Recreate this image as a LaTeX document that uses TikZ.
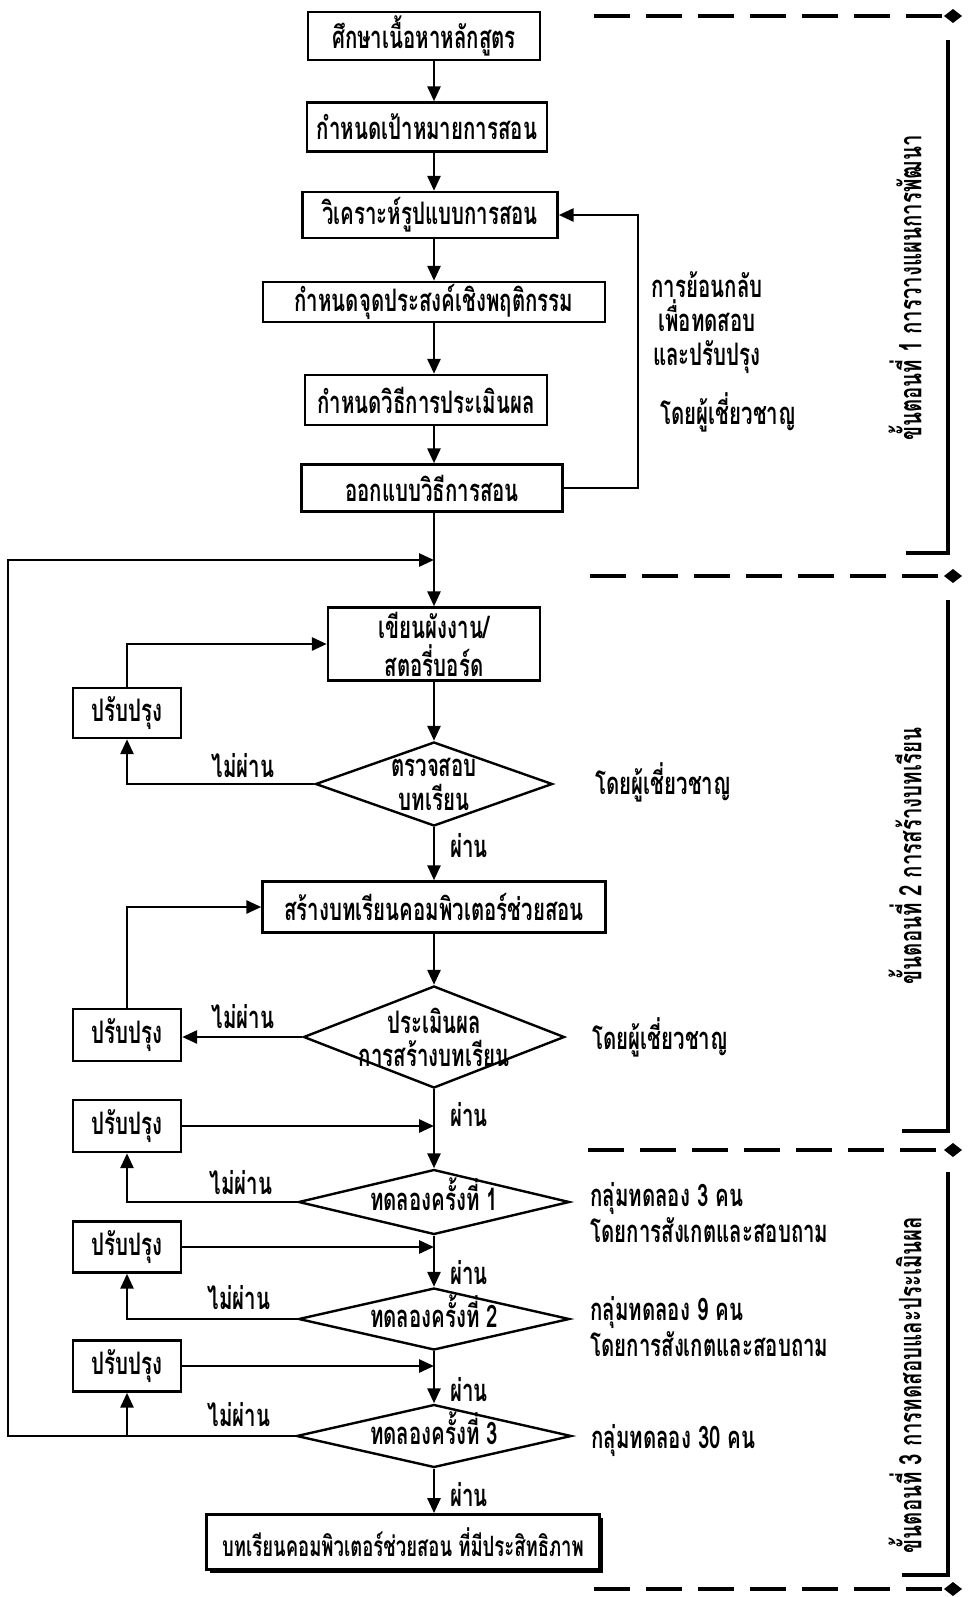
\documentclass[tikz,border=0pt]{standalone}
\usepackage{fontspec}
\newfontfamily\thai[Script=Thai,FakeStretch=0.66]{Loma}
\usetikzlibrary{arrows.meta,shapes.geometric,shadows}
\newcommand{\zb}[1]{\makebox[0pt]{#1}}
\newcommand{\zu}[1]{\raisebox{-4pt}[0pt][0pt]{\makebox[0pt]{#1}}}
\begin{document}
\begin{tikzpicture}[x=0.5pt,y=-0.5pt,
  txt/.style={font=\thai\bfseries\fontsize{15.5}{17}\selectfont, inner sep=0pt},
  box/.style={draw, line width=1.2pt, txt, align=center, fill=white},
  dia/.style={draw, diamond, line width=1.2pt, txt, align=center, aspect=3, inner sep=0pt},
  arr/.style={-{Triangle[length=7.5pt,width=6.5pt]}, line width=1.4pt},
  dsh/.style={line width=2.2pt, dash pattern=on 18pt off 8pt, -{Diamond[length=9pt,width=7pt]}},
  brk/.style={line width=2.2pt},
  fbox/.style={box, line width=1.4pt, drop shadow={shadow xshift=1.6pt, shadow yshift=-1.6pt, fill=black, opacity=1}}
]
\useasboundingbox (0,0) rectangle (969,1597);
\coordinate (sp) at (434,0);
\coordinate (lp) at (8,0);
\coordinate (fb) at (638,0);
\coordinate (mrg) at (434,560);

% stage 1
\node[box,minimum width=116pt,minimum height=24pt] (b1) at (424,36) {ศึกษาเนื้อหาหลักสูตร};
\node[box,minimum width=120pt,minimum height=24.5pt] (b2) at (427,127) {กำหนดเป้าหมายการสอน};
\node[box,minimum width=127.5pt,minimum height=23pt] (b3) at (430,215) {วิเคราะห์รูปแบบการสอน};
\node[box,minimum width=171pt,minimum height=20pt] (b4) at (434,302) {กำหนดจุดประสงค์เชิงพฤติกรรม};
\node[box,minimum width=121pt,minimum height=25pt] (b5) at (426,400) {กำหนดวิธีการประเมินผล};
\node[box,minimum width=130.5pt,minimum height=23.5pt] (b6) at (432,488) {ออกแบบวิธีการสอน};
\draw[arr] (b1.south -| sp) -- (b2.north -| sp);
\draw[arr] (b2.south -| sp) -- (b3.north -| sp);
\draw[arr] (b3.south -| sp) -- (b4.north -| sp);
\draw[arr] (b4.south -| sp) -- (b5.north -| sp);
\draw[arr] (b5.south -| sp) -- (b6.north -| sp);
\draw[arr] (b6.east) -- (b6.east -| fb) -- (b3.east -| fb) -- (b3.east);
\node[txt,align=center] (fbt) at (707,323) {การย้อนกลับ\\เพื่อทดสอบ\\และปรับปรุง};
\node[txt,anchor=west] (fbe) at (660,412) {โดยผู้เชี่ยวชาญ};

% stage 2
\node[box,minimum width=106pt,minimum height=36.5pt,font=\thai\bfseries\fontsize{15.5}{19}\selectfont] (b7) at (434,644) {เขียนผังงาน/\\สตอรี่บอร์ด};
\draw[arr] (b6.south -| sp) -- (b7.north);
\node[box,minimum width=54pt,minimum height=25pt] (pA) at (127,713) {ปรับปรุง};
\draw[arr] (pA.north) |- (b7.west);
\node[dia,minimum width=118.5pt,minimum height=42pt] (d1) at (434,784) {\zb{ตรวจสอบ}\\\zb{บทเรียน}};
\draw[arr] (b7.south) -- (d1.north);
\draw[arr] (d1.west) -| (pA.south);
\node[txt] (nf1) at (243,766) {ไม่ผ่าน};
\node[txt,anchor=west] (p1) at (450,846) {ผ่าน};
\node[txt,anchor=west] (e1) at (595,782) {โดยผู้เชี่ยวชาญ};

\node[box,minimum width=171.5pt,minimum height=25.5pt] (b8) at (434,907) {สร้างบทเรียนคอมพิวเตอร์ช่วยสอน};
\draw[arr] (d1.south) -- (b8.north);
\node[box,minimum width=54pt,minimum height=26pt] (pB) at (127,1035) {ปรับปรุง};
\draw[arr] (pB.north) |- (b8.west);
\node[dia,minimum width=130.5pt,minimum height=51pt,font=\thai\bfseries\fontsize{15.5}{16.5}\selectfont] (d2) at (434,1037) {\zb{ประเมินผล}\\\zb{การสร้างบทเรียน}};
\draw[arr] (b8.south) -- (d2.north);
\draw[arr] (d2.west) -- (d2.west -| pB.east);
\node[txt] (nf2) at (243,1017) {ไม่ผ่าน};
\node[txt,anchor=west] (e2) at (592,1037) {โดยผู้เชี่ยวชาญ};
\node[txt,anchor=west] (p2) at (450,1115) {ผ่าน};

% stage 3
\node[box,minimum width=54pt,minimum height=26pt] (pC) at (127,1126) {ปรับปรุง};
\node[dia,minimum width=135.5pt,minimum height=32.5pt] (d3) at (434,1202) {\zu{ทดลองครั้งที่ 1}};
\draw[arr] (d2.south) -- (d3.north);
\draw[arr] (pC.east) -- (pC.east -| sp);
\draw[arr] (d3.west) -| (pC.south);
\node[txt] (nf3) at (241,1183) {ไม่ผ่าน};
\node[txt,anchor=west,align=left,font=\thai\bfseries\fontsize{15.5}{18}\selectfont] (g1) at (590,1213) {กลุ่มทดลอง 3 คน\\โดยการสังเกตและสอบถาม};

\node[box,minimum width=54pt,minimum height=25.5pt] (pD) at (127,1247) {ปรับปรุง};
\draw[arr] (pD.east) -- (pD.east -| sp);
\node[dia,minimum width=135.5pt,minimum height=31pt] (d4) at (434,1319) {\zu{ทดลองครั้งที่ 2}};
\draw[arr] (d3.south) -- (d4.north);
\node[txt,anchor=west] (p3) at (450,1273) {ผ่าน};
\draw[arr] (d4.west) -| (pD.south);
\node[txt] (nf4) at (239,1298) {ไม่ผ่าน};
\node[txt,anchor=west,align=left,font=\thai\bfseries\fontsize{15.5}{18}\selectfont] (g2) at (590,1327) {กลุ่มทดลอง 9 คน\\โดยการสังเกตและสอบถาม};

\node[box,minimum width=54pt,minimum height=25.5pt] (pE) at (127,1366) {ปรับปรุง};
\draw[arr] (pE.east) -- (pE.east -| sp);
\node[dia,minimum width=137.5pt,minimum height=31.5pt] (d5) at (434,1436) {\zu{ทดลองครั้งที่ 3}};
\draw[arr] (d4.south) -- (d5.north);
\node[txt,anchor=west] (p4) at (450,1390) {ผ่าน};
\draw[arr] (d5.west) -- (d5.west -| lp) -- (lp |- mrg) -- (mrg);
\draw[arr] (d5.west -| pE.south) -- (pE.south);
\node[txt] (nf5) at (239,1415) {ไม่ผ่าน};
\node[txt,anchor=west] (g3) at (591,1440) {กลุ่มทดลอง 30 คน};

\node[fbox,minimum width=196.5pt,minimum height=27.5pt,font=\thai\bfseries\fontsize{14}{16}\selectfont] (fin) at (403,1542) {บทเรียนคอมพิวเตอร์ช่วยสอน ที่มีประสิทธิภาพ};
\draw[arr] (d5.south) -- (d5.south |- fin.north);
\node[txt,anchor=west] (p5) at (450,1495) {ผ่าน};

% brackets
\coordinate (s1a) at (594,16); \coordinate (s1b) at (962,16);
\coordinate (v1t) at (948,40); \coordinate (v1b) at (948,553); \coordinate (t1) at (906,553);
\coordinate (s2a) at (590,576); \coordinate (s2b) at (962,576);
\coordinate (v2t) at (948,600); \coordinate (v2b) at (948,1131); \coordinate (t2) at (902,1131);
\coordinate (s3a) at (588,1150); \coordinate (s3b) at (962,1150);
\coordinate (v3t) at (948,1172); \coordinate (v3b) at (948,1575); \coordinate (t3) at (902,1575);
\coordinate (s4a) at (594,1589); \coordinate (s4b) at (962,1589);
\draw[dsh] (s1a) -- (s1b);
\draw[brk] (v1t) -- (v1b) -- (t1);
\draw[dsh] (s2a) -- (s2b);
\draw[brk] (v2t) -- (v2b) -- (t2);
\draw[dsh] (s3a) -- (s3b);
\draw[brk] (v3t) -- (v3b) -- (t3);
\draw[dsh] (s4a) -- (s4b);
\node[txt,rotate=90] (st1) at (905,288) {ขั้นตอนที่ 1 การวางแผนการพัฒนา};
\node[txt,rotate=90] (st2) at (905,856) {ขั้นตอนที่ 2 การสร้างบทเรียน};
\node[txt,rotate=90] (st3) at (905,1385) {ขั้นตอนที่ 3 การทดสอบและประเมินผล};
\end{tikzpicture}
\end{document}
